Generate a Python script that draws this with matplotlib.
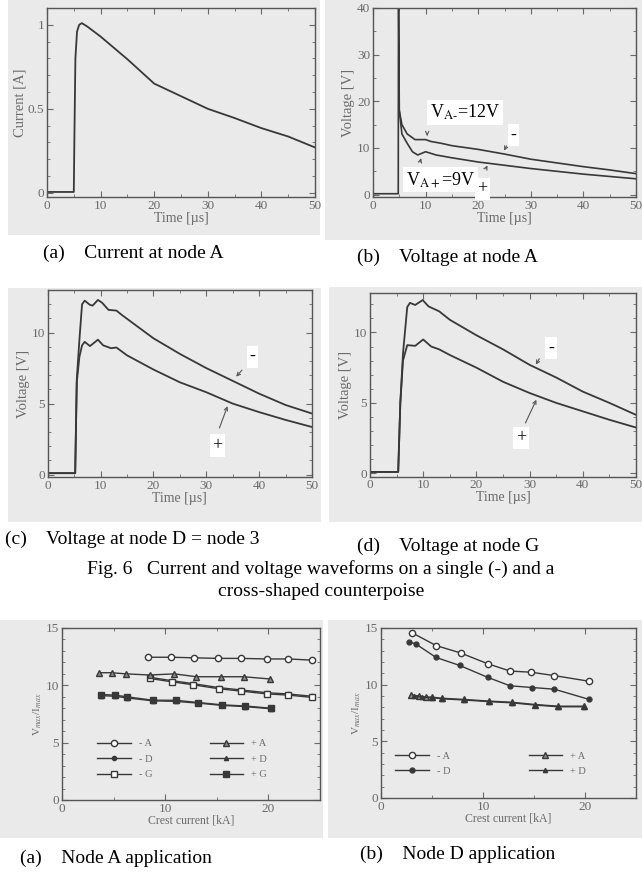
import matplotlib
matplotlib.use("Agg")
import matplotlib.pyplot as plt
from matplotlib.patches import Rectangle
from matplotlib.ticker import MultipleLocator, FormatStrFormatter

plt.rcParams['font.family'] = ['Liberation Serif', 'DejaVu Serif']
plt.rcParams['mathtext.fontset'] = 'stix'

# ---- (a) current at node A
t_cur = [0, 5.0, 5.1, 5.3, 5.6, 6.0, 6.5, 7.5, 10, 15, 20, 25, 30, 35, 40, 45, 50]
i_cur = [0.005, 0.005, 0.3, 0.8, 0.96, 1.0, 1.01, 0.99, 0.93, 0.795, 0.65, 0.575, 0.5,
         0.445, 0.385, 0.335, 0.27]

# ---- (b) voltage at node A
t_b_neg = [0, 4.8, 4.85, 5.0, 5.5, 6.5, 8, 10, 11, 13, 15, 20, 25, 30, 35, 40, 45, 50]
v_b_neg = [0.2, 0.2, 45, 18, 15, 13, 11.8, 11.8, 11.4, 11.0, 10.5, 9.7, 8.7, 7.6, 6.8,
           6.0, 5.3, 4.5]
t_b_pos = [5.0, 5.5, 6.5, 7.5, 8.5, 10, 12, 15, 20, 25, 30, 35, 40, 45, 50]
v_b_pos = [18, 13, 11, 9.2, 8.5, 9.2, 8.5, 7.9, 7.0, 6.3, 5.6, 5.0, 4.4, 3.9, 3.4]

# ---- (c) voltage at node D = node 3
t_c_neg = [0, 5.2, 5.5, 6.0, 6.5, 7.0, 8.0, 8.5, 9.5, 10.3, 11.5, 13, 14, 20, 25, 30, 35,
           40, 45, 50]
v_c_neg = [0.1, 0.1, 6.7, 9.5, 12.0, 12.25, 11.95, 11.9, 12.3, 12.1, 11.6, 11.55, 11.25,
           9.6, 8.5, 7.5, 6.6, 5.7, 4.9, 4.3]
t_c_pos = [0, 5.2, 5.5, 6.0, 6.5, 7.0, 8.0, 9.5, 10.5, 12, 13, 15, 20, 25, 30, 35, 40,
           45, 50]
v_c_pos = [0.1, 0.1, 6.5, 8.3, 9.1, 9.35, 9.05, 9.5, 9.1, 8.9, 8.95, 8.4, 7.4, 6.5, 5.8,
           5.0, 4.4, 3.85, 3.35]

# ---- (d) voltage at node G
t_d_neg = [0, 5.3, 5.7, 6.2, 7.0, 7.5, 8.5, 9.9, 11, 13, 15, 20, 25, 30, 35, 40, 45, 50]
v_d_neg = [0.1, 0.1, 5.0, 8.5, 11.8, 12.1, 11.95, 12.3, 11.85, 11.5, 10.9, 9.8, 8.8, 7.7,
           6.8, 5.8, 5.0, 4.15]
t_d_pos = [0, 5.3, 5.7, 6.2, 7.0, 8.5, 10, 11.5, 13, 15, 20, 25, 30, 35, 40, 45, 50]
v_d_pos = [0.1, 0.1, 5.0, 8.0, 9.1, 9.05, 9.5, 9.0, 8.8, 8.4, 7.5, 6.5, 5.7, 5.0, 4.4,
           3.8, 3.25]

# ---- Vmax/Imax vs crest current, node A application
xa_negA = [8.3, 10.6, 12.8, 15.1, 17.3, 19.9, 21.9, 24.2]
ya_negA = [12.45, 12.45, 12.4, 12.35, 12.35, 12.3, 12.3, 12.2]
xa_negD = [8.5, 10.7, 12.7, 15.2, 17.3, 19.9, 21.9, 24.2]
ya_negD = [10.7, 10.4, 10.15, 9.8, 9.6, 9.35, 9.25, 9.05]
xa_negG = [8.5, 10.7, 12.7, 15.2, 17.3, 19.9, 21.9, 24.2]
ya_negG = [10.6, 10.3, 10.05, 9.7, 9.5, 9.25, 9.15, 8.95]
xa_posA = [3.6, 4.8, 6.2, 8.5, 10.9, 13.0, 15.4, 17.6, 20.2]
ya_posA = [11.1, 11.1, 11.0, 10.9, 11.0, 10.75, 10.75, 10.75, 10.55]
xa_posD = [3.8, 5.1, 6.3, 8.8, 11.0, 13.2, 15.5, 17.7, 20.3]
ya_posD = [9.1, 9.05, 8.9, 8.65, 8.6, 8.45, 8.25, 8.15, 7.95]
xa_posG = [3.8, 5.1, 6.3, 8.8, 11.0, 13.2, 15.5, 17.7, 20.3]
ya_posG = [9.2, 9.15, 9.0, 8.7, 8.7, 8.5, 8.3, 8.2, 8.0]

# ---- node D application
xd_negA = [3.0, 5.4, 7.8, 10.45, 12.65, 14.7, 17.0, 20.4]
yd_negA = [14.6, 13.45, 12.8, 11.85, 11.2, 11.1, 10.8, 10.3]
xd_negD = [2.7, 3.4, 5.4, 7.7, 10.45, 12.65, 14.8, 17.0, 20.4]
yd_negD = [13.8, 13.6, 12.4, 11.7, 10.65, 9.9, 9.75, 9.6, 8.7]
xd_posA = [2.9, 3.7, 4.4, 5.0, 6.0, 8.1, 10.6, 12.8, 15.1, 17.4, 19.9]
yd_posA = [9.1, 9.0, 8.9, 8.9, 8.8, 8.7, 8.55, 8.45, 8.25, 8.1, 8.1]
xd_posD = [3.2, 4.0, 5.0, 6.0, 8.1, 10.6, 12.8, 15.1, 17.4, 19.9]
yd_posD = [9.0, 8.9, 8.85, 8.75, 8.65, 8.5, 8.4, 8.2, 8.05, 8.05]

W, H = 642, 875
BG = '#eaeaea'
LC = '#383838'
TC = '#6a6a6a'

fig = plt.figure(figsize=(W / 100, H / 100), dpi=100)


def box(l, t, r, b):
    return [l / W, 1 - b / H, (r - l) / W, (b - t) / H]


# scanned gray backgrounds
for l, t, r, b in [(8, 0, 320, 235), (325, 0, 642, 240), (8, 288, 321, 522),
                   (329, 287, 642, 522), (0, 620, 323, 838), (328, 620, 642, 838)]:
    fig.add_artist(Rectangle((l / W, 1 - b / H), (r - l) / W, (b - t) / H,
                             transform=fig.transFigure, color=BG, zorder=-5, lw=0))


def panel(rect, xlim, ylim, xmaj, xmin, ymaj, ymin, xlabel, ylabel,
          xsize=10, ysize=10.5):
    ax = fig.add_axes(box(*rect))
    ax.set_facecolor(BG)
    ax.set_xlim(*xlim)
    ax.set_ylim(*ylim)
    ax.xaxis.set_major_locator(MultipleLocator(xmaj))
    ax.xaxis.set_minor_locator(MultipleLocator(xmin))
    ax.yaxis.set_major_locator(MultipleLocator(ymaj))
    ax.yaxis.set_minor_locator(MultipleLocator(ymin))
    ax.yaxis.set_major_formatter(FormatStrFormatter('%g'))
    ax.tick_params(which='both', direction='in', top=True, right=True, colors=TC,
                   labelsize=9.5, pad=2)
    ax.tick_params(which='major', length=4)
    ax.tick_params(which='minor', length=2)
    for s in ax.spines.values():
        s.set_color('#555555')
        s.set_linewidth(1.0)
    ax.set_xlabel(xlabel, color=TC, fontsize=xsize, labelpad=0)
    ax.set_ylabel(ylabel, color=TC, fontsize=ysize, labelpad=1)
    return ax


def arrow(ax, xy, xytext):
    ax.annotate('', xy=xy, xytext=xytext,
                arrowprops=dict(arrowstyle='->', color='#555555', lw=0.8,
                                mutation_scale=6))


def tag(ax, x, y, s, size=13):
    ax.text(x, y, s, fontsize=size, ha='center', va='center', color='black',
            bbox=dict(facecolor='white', edgecolor='none', pad=2))


# (a)
ax = panel((47, 8, 315, 197), (0, 50), (-0.025, 1.1), 10, 5, 0.5, 0.1,
           'Time [\u00b5s]', 'Current [A]')
ax.plot(t_cur, i_cur, color=LC, lw=1.3)

# (b)
ax = panel((373, 8, 636, 197), (0, 50), (-0.5, 40), 10, 5, 10, 5,
           'Time [\u00b5s]', 'Voltage [V]')
ax.plot(t_b_neg, v_b_neg, color=LC, lw=1.2)
ax.plot(t_b_pos, v_b_pos, color=LC, lw=1.2)
ax.text(10.8, 17.6, 'V$_{\\mathrm{A\u2010}}$=12V', fontsize=13, ha='left', va='center',
        bbox=dict(facecolor='white', edgecolor='none', pad=2))
tag(ax, 26.7, 12.8, '-')
ax.text(6.2, 3.2, 'V$_{\\mathrm{A+}}$=9V', fontsize=13, ha='left', va='center',
        bbox=dict(facecolor='white', edgecolor='none', pad=2))
tag(ax, 20.8, 1.2, '+')
arrow(ax, (10.3, 12.0), (10.3, 13.6))
arrow(ax, (24.7, 8.9), (25.6, 11.0))
arrow(ax, (9.3, 8.4), (8.8, 6.4))
arrow(ax, (22.0, 6.8), (21.2, 5.0))

# (c)
ax = panel((47.7, 290, 312, 477), (0, 50), (-0.17, 13.0), 10, 5, 5, 1,
           'Time [\u00b5s]', 'Voltage [V]')
ax.plot(t_c_neg, v_c_neg, color=LC, lw=1.3)
ax.plot(t_c_pos, v_c_pos, color=LC, lw=1.3)
tag(ax, 38.7, 8.3, '-')
tag(ax, 32.1, 2.05, '+')
arrow(ax, (35.3, 6.75), (37.1, 7.5))
arrow(ax, (34.2, 5.0), (32.3, 3.1))

# (d)
ax = panel((370, 293, 636, 476.7), (0, 50), (-0.24, 12.8), 10, 5, 5, 1,
           'Time [\u00b5s]', 'Voltage [V]')
ax.plot(t_d_neg, v_d_neg, color=LC, lw=1.3)
ax.plot(t_d_pos, v_d_pos, color=LC, lw=1.3)
tag(ax, 34.0, 8.9, '-')
tag(ax, 28.4, 2.5, '+')
arrow(ax, (30.9, 7.55), (32.1, 8.3))
arrow(ax, (31.5, 5.4), (29.0, 3.4))

# bottom (a) node A application
mk = dict(color=LC, lw=1.0, ms=4.5)
ax = panel((62, 628, 320, 800), (0, 25), (0, 15), 10, 5, 5, 1,
           'Crest current [kA]', 'V$_{max}$/I$_{max}$', xsize=8.5, ysize=8)
ax.plot(xa_negA, ya_negA, marker='o', mfc='white', label='- A', **mk)
ax.plot(xa_negD, ya_negD, marker='o', mfc=LC, ms=3, color=LC, lw=1.0, label='- D')
ax.plot(xa_negG, ya_negG, marker='s', mfc='white', label='- G', **mk)
ax.plot(xa_posA, ya_posA, marker='^', mfc='#888888', label='+ A', **mk)
ax.plot(xa_posD, ya_posD, marker='^', mfc=LC, ms=3, color=LC, lw=1.0, label='+ D')
ax.plot(xa_posG, ya_posG, marker='s', mfc=LC, label='+ G', **mk)
ax.legend(ncol=2, loc='upper left', bbox_to_anchor=(0.1, 0.41), fontsize=7.5,
          frameon=False, handlelength=3.2, columnspacing=5.5, labelspacing=0.6,
          labelcolor=TC)

# bottom (b) node D application
ax = panel((381, 628, 636, 798), (0, 25), (0, 15), 10, 5, 5, 1,
           'Crest current [kA]', 'V$_{max}$/I$_{max}$', xsize=8.5, ysize=8)
ax.plot(xd_negA, yd_negA, marker='o', mfc='white', label='- A', **mk)
ax.plot(xd_negD, yd_negD, marker='o', mfc=LC, ms=3.5, color=LC, lw=1.0, label='- D')
ax.plot(xd_posA, yd_posA, marker='^', mfc='#888888', label='+ A', **mk)
ax.plot(xd_posD, yd_posD, marker='^', mfc=LC, ms=3, color=LC, lw=1.0, label='+ D')
ax.legend(ncol=2, loc='upper left', bbox_to_anchor=(0.02, 0.33), fontsize=7.5,
          frameon=False, handlelength=3.2, columnspacing=7.5, labelspacing=0.6,
          labelcolor=TC)

# captions
cap = dict(fontsize=14, color='black', va='center')
fig.text(43 / W, 1 - 253 / H, '(a)    Current at node A', **cap)
fig.text(357 / W, 1 - 257 / H, '(b)    Voltage at node A', **cap)
fig.text(5 / W, 1 - 539 / H, '(c)    Voltage at node D = node 3', **cap)
fig.text(357 / W, 1 - 546 / H, '(d)    Voltage at node G', **cap)
fig.text(0.5, 1 - 569 / H, 'Fig. 6   Current and voltage waveforms on a single (-) and a',
         ha='center', **cap)
fig.text(0.5, 1 - 592 / H, 'cross-shaped counterpoise', ha='center', **cap)
fig.text(20 / W, 1 - 858 / H, '(a)    Node A application', **cap)
fig.text(360 / W, 1 - 854 / H, '(b)    Node D application', **cap)

fig.savefig('out.png', dpi=100)
